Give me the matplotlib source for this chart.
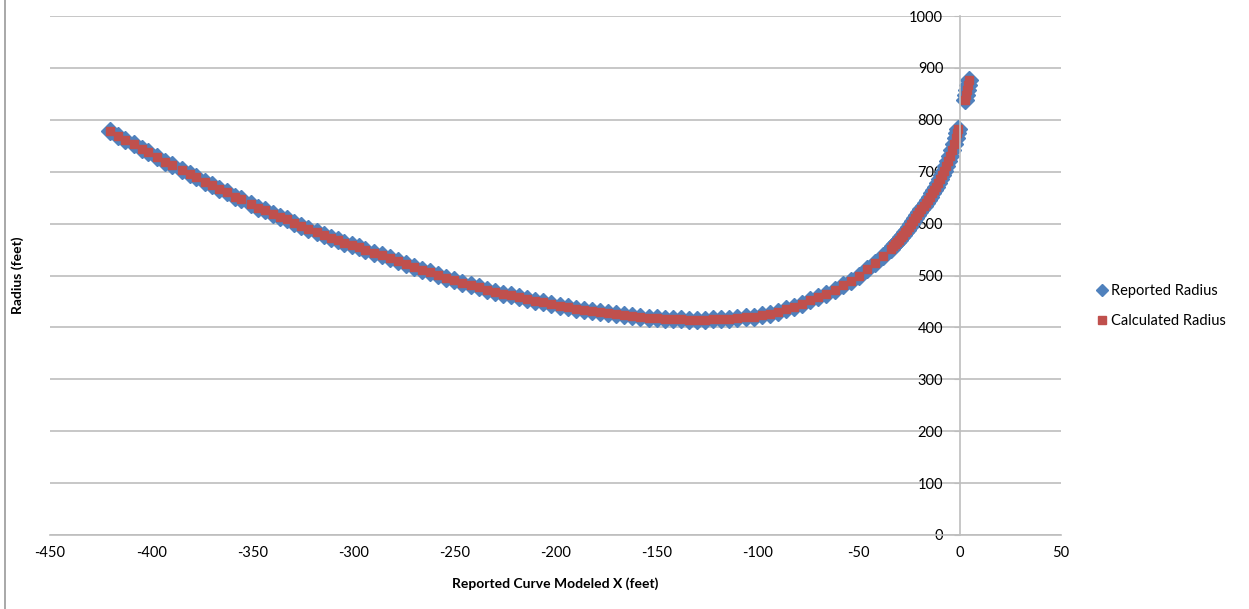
import matplotlib
matplotlib.use("Agg")
import matplotlib.pyplot as plt
from matplotlib.lines import Line2D

plt.rcParams['font.family'] = ['Lato', 'DejaVu Sans']
plt.rcParams['axes.unicode_minus'] = False

# Data (feet)
x_left = [-420.5, -416.3, -413.0, -408.7, -404.6, -401.3, -397.2, -393.1, -389.8, -384.8,
          -380.7, -377.7, -373.4, -370.1, -366.3, -362.5, -358.6, -355.3, -350.7, -346.9,
          -343.6, -339.9, -336.3, -332.8, -329.2, -325.9, -322.3, -318.0, -314.7, -311.1,
          -307.8, -304.5, -300.8, -297.4, -294.1]
r_left = [779, 769, 761, 753, 743, 737, 728, 719, 713, 703,
          696, 689, 681, 674, 667, 660, 652, 647, 638, 631,
          626, 619, 613, 608, 602, 595, 590, 583, 578, 573,
          568, 563, 558, 554, 549]

x_mid = [-290, -286, -282, -278, -274, -270, -266, -262, -258, -254,
         -250, -246, -242, -238, -234, -230, -226, -222, -218, -214,
         -210, -206, -202, -198, -194, -190, -186, -182, -178, -174,
         -170, -166, -162, -158, -154, -150, -146, -142, -138, -134,
         -130, -126, -122, -118, -114, -110, -106, -102, -98, -94,
         -90, -86, -82, -78, -74, -70, -66, -62, -58, -54,
         -50, -46, -42, -38, -34]
r_mid = [544, 539, 533, 528, 522, 517, 511, 506, 501, 496,
         491, 486, 481, 477, 473, 469, 465, 462, 458, 454,
         451, 448, 445, 442, 439, 436, 434, 431, 429, 427,
         425, 423, 422, 420, 419, 418, 417, 416, 415.5, 415,
         415, 415, 415.5, 416, 417, 418, 420, 421, 423, 426,
         430, 435, 440, 446, 452, 458, 465, 473, 481, 490,
         500, 512, 524, 537, 552]

x_right = [-33, -32, -31, -30, -29, -28, -27, -26, -25, -24, -23, -22, -21, -20,
           -19, -18, -17, -16, -15, -14, -13, -12, -11, -10, -9, -8, -7, -6,
           -5, -4, -3, -2, -1.5, -1]
r_right = [556, 560, 564.5, 569, 573.5, 578, 583, 588, 593.5, 599, 604.5, 610, 616, 622,
           628, 634, 640, 646, 652, 658, 664.5, 671, 678, 685, 693, 702, 711, 720,
           730, 741, 753, 765, 774, 783]

x_top = [2.6, 3.1, 3.6, 4.1, 4.6]
r_top = [838, 848, 857, 867, 876]

model_x = x_left + x_mid + x_right + x_top
reported_radius = r_left + r_mid + r_right + r_top
calculated_radius = r_left + r_mid + r_right + r_top

xticks = [-450, -400, -350, -300, -250, -200, -150, -100, -50, 0, 50]
yticks = [0, 100, 200, 300, 400, 500, 600, 700, 800, 900, 1000]

blue = '#4F81BD'
red = '#C0504D'
grid = '#BEBEBE'

fig = plt.figure(figsize=(12.49, 6.09), dpi=100)
ax = fig.add_axes([50/1249, 1-535/609, 1011/1249, 519/609])

ax.plot(model_x, reported_radius, linestyle='none', marker='D', markersize=9.5,
        color=blue, markeredgecolor=blue, label='Reported Radius')
ax.plot(model_x, calculated_radius, linestyle='none', marker='s', markersize=5.5,
        color=red, markeredgecolor=red, label='Calculated Radius')

ax.set_xlim(-450, 50)
ax.set_ylim(0, 1000)
ax.set_xticks(xticks)
ax.set_yticks(yticks)

ax.yaxis.grid(True, color=grid, linewidth=1.2)
ax.set_axisbelow(True)

for s in ['top', 'right']:
    ax.spines[s].set_visible(False)
ax.spines['left'].set_position(('data', 0))
ax.spines['left'].set_color(grid)
ax.spines['left'].set_linewidth(1.2)
ax.spines['bottom'].set_color(grid)
ax.spines['bottom'].set_linewidth(1.2)

ax.tick_params(axis='y', length=4, color=grid, pad=8, labelsize=10.5)
ax.tick_params(axis='x', length=0, pad=8, labelsize=10.5)

fig.text(555/1249, 1-584/609, 'Reported Curve Modeled X (feet)', ha='center', va='center',
         fontsize=10, fontweight='bold')
fig.text(18/1249, 1-275/609, 'Radius (feet)', ha='center', va='center', rotation=90,
         fontsize=10, fontweight='bold')

leg = ax.legend(loc='center left', bbox_to_anchor=(1080/1249, 1-306/609),
                bbox_transform=fig.transFigure, frameon=False, fontsize=10.5,
                handletextpad=0.0, handlelength=1.2, labelspacing=1.1)
leg.legend_handles[0].set_markersize(6.5)
leg.legend_handles[1].set_markersize(5.5)

fig.add_artist(Line2D([4.5/1249, 4.5/1249], [0, 1], color='#999999', linewidth=1.2,
                      transform=fig.transFigure))

fig.savefig('out.png', dpi=100)
